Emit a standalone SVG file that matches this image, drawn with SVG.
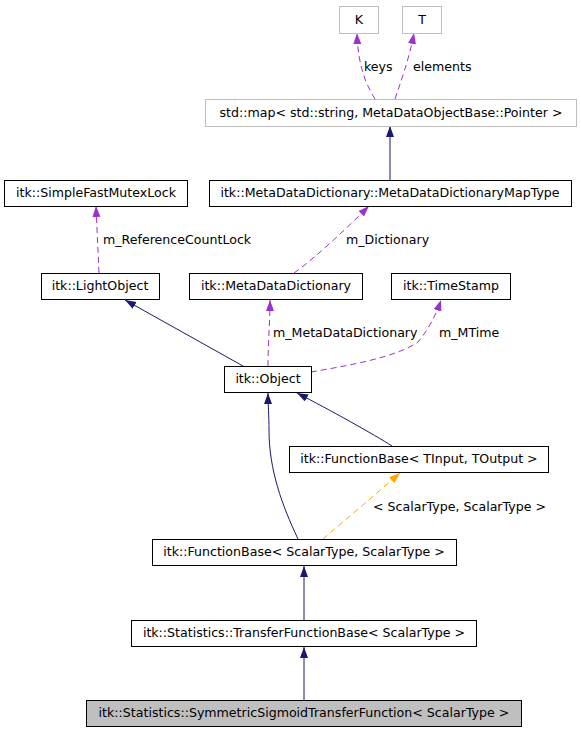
<svg xmlns="http://www.w3.org/2000/svg" width="581" height="733" viewBox="0 0 581 733">
<style>
text{font-family:"DejaVu Sans","Liberation Sans",sans-serif;font-size:12.6px;fill:#000}
.n rect{fill:#fff;stroke:#000;stroke-width:1}
.g rect{fill:#fff;stroke:#bfbfbf;stroke-width:1}
.c{text-anchor:middle}
.e{fill:none;stroke-width:1}
.inh{stroke:#191970}
.use{stroke:#9a32cd;stroke-dasharray:6,4}
.tpl{stroke:#ffa500;stroke-dasharray:6,4}
</style>
<defs>
<marker id="aN" markerUnits="userSpaceOnUse" markerWidth="12" markerHeight="9" refX="11" refY="4" orient="auto"><path d="M0,0L11,4L0,8z" fill="#191970"/></marker>
<marker id="aP" markerUnits="userSpaceOnUse" markerWidth="12" markerHeight="9" refX="11" refY="4" orient="auto"><path d="M0,0L11,4L0,8z" fill="#9a32cd"/></marker>
<marker id="aO" markerUnits="userSpaceOnUse" markerWidth="12" markerHeight="9" refX="11" refY="4" orient="auto"><path d="M0,0L11,4L0,8z" fill="#ffa500"/></marker>
</defs>
<rect width="581" height="733" fill="#fff"/>
<g id="connectors">
<path class="e use" d="M375,99 C367,86 358,68 357,33" marker-end="url(#aP)"/>
<path class="e use" d="M395,99 C400,84 409,60 414,33" marker-end="url(#aP)"/>
<path class="e inh" d="M390,180 L390,126" marker-end="url(#aN)"/>
<path class="e use" d="M99,273 C98,250 97,230 96,206" marker-end="url(#aP)"/>
<path class="e use" d="M294,273 C315,258 345,230 369,206" marker-end="url(#aP)"/>
<path class="e inh" d="M243,366 L125,300" marker-end="url(#aN)"/>
<path class="e use" d="M268,366 C268,345 270,320 270,300" marker-end="url(#aP)"/>
<path class="e use" d="M311,372 C345,366 395,358 418,342 C428,330 436,315 441,300" marker-end="url(#aP)"/>
<path class="e inh" d="M392,446 C375,435 330,410 297,393" marker-end="url(#aN)"/>
<path class="e inh" d="M298,539 C282,505 269,470 269,430 C269,415 268,405 268,393" marker-end="url(#aN)"/>
<path class="e tpl" d="M323,539 C345,520 375,495 400,473" marker-end="url(#aO)"/>
<path class="e inh" d="M304,620 L304,566" marker-end="url(#aN)"/>
<path class="e inh" d="M304,700 L304,647" marker-end="url(#aN)"/>
<text x="364" y="71">keys</text>
<text x="413" y="71">elements</text>
<text x="103" y="244">m_ReferenceCountLock</text>
<text x="346" y="244">m_Dictionary</text>
<text x="273" y="337">m_MetaDataDictionary</text>
<text x="439" y="337">m_MTime</text>
<text x="373" y="511">&lt; ScalarType, ScalarType &gt;</text>
</g>
<g id="K" class="g"><rect x="339.5" y="6.5" width="39" height="27"/><text class="c" x="359" y="24">K</text></g>
<g id="T" class="g"><rect x="402.5" y="6.5" width="39" height="27"/><text class="c" x="422" y="24">T</text></g>
<g id="stdmap" class="g"><rect x="205.5" y="99.5" width="371" height="27"/><text class="c" x="391" y="117">std::map&lt; std::string, MetaDataObjectBase::Pointer &gt;</text></g>
<g id="SimpleFastMutexLock" class="n"><rect x="4.5" y="180.5" width="183" height="26"/><text class="c" x="96" y="197">itk::SimpleFastMutexLock</text></g>
<g id="MapType" class="n"><rect x="209.5" y="180.5" width="362" height="26"/><text class="c" x="390" y="197">itk::MetaDataDictionary::MetaDataDictionaryMapType</text></g>
<g id="LightObject" class="n"><rect x="41.5" y="273.5" width="118" height="26"/><text class="c" x="100" y="290">itk::LightObject</text></g>
<g id="MetaDataDictionary" class="n"><rect x="189.5" y="273.5" width="173" height="26"/><text class="c" x="276" y="290">itk::MetaDataDictionary</text></g>
<g id="TimeStamp" class="n"><rect x="391.5" y="273.5" width="119" height="26"/><text class="c" x="451" y="290">itk::TimeStamp</text></g>
<g id="Object" class="n"><rect x="224.5" y="366.5" width="87" height="26"/><text class="c" x="268" y="383">itk::Object</text></g>
<g id="FunctionBaseTIO" class="n"><rect x="289.5" y="446.5" width="259" height="26"/><text class="c" x="419" y="463">itk::FunctionBase&lt; TInput, TOutput &gt;</text></g>
<g id="FunctionBaseST" class="n"><rect x="152.5" y="539.5" width="304" height="26"/><text class="c" x="304" y="556">itk::FunctionBase&lt; ScalarType, ScalarType &gt;</text></g>
<g id="TransferFunctionBase" class="n"><rect x="131.5" y="620.5" width="345" height="26"/><text class="c" x="304" y="637">itk::Statistics::TransferFunctionBase&lt; ScalarType &gt;</text></g>
<g id="SymmetricSigmoid" class="n"><rect x="86.5" y="700.5" width="435" height="26" style="fill:#bfbfbf"/><text class="c" x="304" y="717">itk::Statistics::SymmetricSigmoidTransferFunction&lt; ScalarType &gt;</text></g>
</svg>
